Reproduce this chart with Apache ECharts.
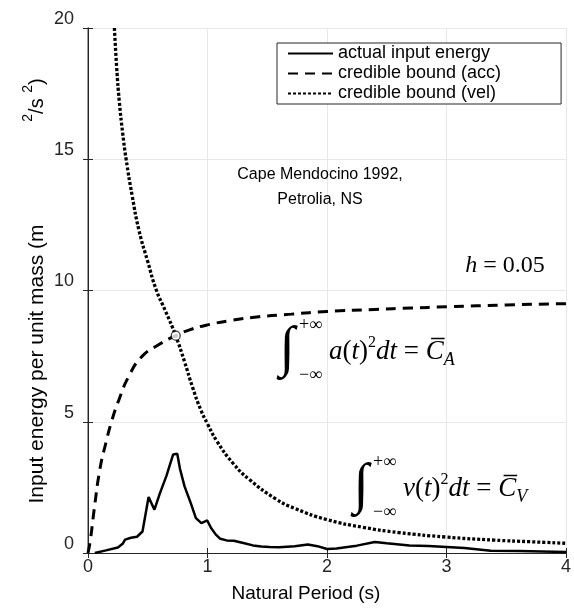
<!DOCTYPE html>
<html>
<head>
<meta charset="utf-8">
<script src="https://cdn.jsdelivr.net/npm/echarts@6/dist/echarts.min.js"></script>
<style>
  html, body { margin: 0; padding: 0; background: #fff; }
  #chart { width: 574px; height: 610px; }
</style>
</head>
<body>
<div id="chart"></div>
<script>
// Input energy spectrum, Cape Mendocino 1992 (Petrolia, NS), h = 0.05
const periodIn = [0.057, 0.15, 0.25, 0.29, 0.31, 0.36, 0.41, 0.456, 0.507, 0.556, 0.6, 0.657, 0.712, 0.747, 0.77, 0.808, 0.86, 0.903, 0.949, 0.998, 1.03, 1.07, 1.107, 1.16, 1.22, 1.3, 1.38, 1.45, 1.52, 1.6, 1.73, 1.84, 1.92, 2.0, 2.08, 2.14, 2.25, 2.4, 2.5, 2.69, 2.85, 3.0, 3.15, 3.37, 3.6, 3.8, 4.0];
const energyIn = [0, 0.1, 0.21, 0.35, 0.51, 0.58, 0.62, 0.82, 2.13, 1.65, 2.25, 2.95, 3.75, 3.78, 3.2, 2.54, 1.9, 1.33, 1.14, 1.24, 0.95, 0.7, 0.54, 0.48, 0.47, 0.38, 0.29, 0.25, 0.23, 0.22, 0.26, 0.32, 0.26, 0.15, 0.17, 0.21, 0.28, 0.42, 0.37, 0.29, 0.27, 0.23, 0.19, 0.09, 0.08, 0.06, 0.04];

const periodAcc = [0, 0.02, 0.05, 0.1, 0.15, 0.2, 0.26, 0.34, 0.45, 0.59, 0.734, 0.85, 1.0, 1.2, 1.43, 1.7, 2.0, 2.4, 2.7, 3.0, 3.5, 4.0];
const boundAcc = [0, 0.5, 1.6, 3.2, 4.2, 5.05, 5.85, 6.72, 7.48, 7.93, 8.28, 8.5, 8.69, 8.86, 9.0, 9.1, 9.2, 9.28, 9.33, 9.38, 9.45, 9.5];

const periodVel = [0.221, 0.24, 0.262, 0.29, 0.319, 0.37, 0.426, 0.5, 0.573, 0.65, 0.734, 0.807, 0.876, 0.944, 1.0, 1.08, 1.217, 1.353, 1.571, 1.73, 2.0, 2.3, 2.6, 2.99, 3.4, 3.7, 4.0];
const boundVel = [20, 18.5, 17.2, 16.0, 15.0, 13.6, 12.3, 11.1, 10.0, 9.2, 8.28, 7.3, 6.3, 5.45, 4.92, 4.25, 3.4, 2.79, 2.06, 1.7, 1.27, 0.98, 0.78, 0.61, 0.49, 0.43, 0.37];

// Period where the two credible bounds meet
const crossPeriod = [0.734];
const crossEnergy = [8.28];

const seriesNames = ['actual input energy', 'credible bound (acc)', 'credible bound (vel)'];
const xTickStep = 1, xMax = 4;
const yTickStep = 5, yMax = 20;

const pairs = (xs, ys) => xs.map((x, i) => [x, ys[i]]);

const FONT = '"Liberation Sans", Arial, Helvetica, sans-serif';
const SERIF = '"Liberation Serif", "Times New Roman", serif';
const AX = '#262626';
const GRID = '#e8e8e8';

const chart = echarts.init(document.getElementById('chart'), null, { renderer: 'canvas' });

const axisCommon = {
  min: 0,
  axisLine: { show: true, lineStyle: { color: AX, width: 1 } },
  axisTick: { show: true, inside: true, length: 5, lineStyle: { color: AX, width: 1 } },
  splitLine: { show: false },
  axisLabel: { show: false }
};

// integral annotation: big integral sign with limits, then the integrand
function integral(x0, y0, fn, sub) {
  return [
    { type: 'text', x: x0, y: y0, z: 10, style: { text: '\u222B', fill: '#000', font: 'italic 56px ' + SERIF, align: 'center', verticalAlign: 'middle' } },
    { type: 'text', x: x0 + 12, y: y0 - 25, z: 10, style: { text: '+\u221E', fill: '#000', font: '18px ' + SERIF, align: 'left', verticalAlign: 'middle' } },
    { type: 'text', x: x0 + 12, y: y0 + 25, z: 10, style: { text: '\u2212\u221E', fill: '#000', font: '18px ' + SERIF, align: 'left', verticalAlign: 'middle' } },
    {
      type: 'text', x: x0 + 42, y: y0 + 2, z: 10,
      style: {
        text: '{i|' + fn + '}{n|(}{i|t}{n|)}{s|2}{i|dt}{n| = }{i|C\u0305}{b|' + sub + '}',
        align: 'left', verticalAlign: 'middle', fill: '#000',
        rich: {
          i: { fontStyle: 'italic', fontSize: 27, fontFamily: SERIF, lineHeight: 34 },
          n: { fontSize: 27, fontFamily: SERIF, lineHeight: 34 },
          s: { fontSize: 16, fontFamily: SERIF, lineHeight: 16, verticalAlign: 'top' },
          b: { fontStyle: 'italic', fontSize: 18, fontFamily: SERIF, lineHeight: 16, verticalAlign: 'bottom' }
        }
      }
    }
  ];
}

const option = {
  animation: false,
  backgroundColor: '#fff',
  grid: { left: 88, right: -3, top: 28, bottom: 57, containLabel: false },
  xAxis: [
    Object.assign({}, axisCommon, {
      type: 'value', position: 'bottom', max: xMax, interval: xTickStep,
      splitLine: { show: true, lineStyle: { color: GRID, width: 1 } },
      axisLabel: { show: true, margin: 5, color: AX, fontSize: 18, fontFamily: FONT }
    }),
    Object.assign({}, axisCommon, {
      type: 'value', position: 'top', max: xMax, interval: xTickStep
    })
  ],
  yAxis: [
    Object.assign({}, axisCommon, {
      type: 'value', position: 'left', max: yMax, interval: yTickStep,
      axisLine: { show: true, lineStyle: { color: '#7a7a7a', width: 1.5 } },
      splitLine: { show: true, lineStyle: { color: GRID, width: 1 } },
      axisLabel: { show: true, margin: 14, color: AX, fontSize: 18, fontFamily: FONT, verticalAlign: 'bottom' }
    }),
    Object.assign({}, axisCommon, {
      type: 'value', position: 'right', max: yMax, interval: yTickStep
    })
  ],
  legend: {
    data: seriesNames,
    orient: 'vertical',
    left: 277, top: 43,
    padding: [1, 60, 1, 10],
    itemWidth: 45, itemHeight: 14, itemGap: 1,
    backgroundColor: '#fff',
    borderColor: AX, borderWidth: 1,
    itemStyle: { color: 'rgba(0,0,0,0)', borderWidth: 0, opacity: 0 },
    textStyle: { color: '#000', fontSize: 18, fontFamily: FONT, lineHeight: 19 }
  },
  series: [
    {
      name: seriesNames[0], type: 'line', data: pairs(periodIn, energyIn),
      symbol: 'none', smooth: false, z: 3, color: '#000',
      lineStyle: { color: '#000', width: 2.5, type: 'solid' }
    },
    {
      name: seriesNames[1], type: 'line', data: pairs(periodAcc, boundAcc),
      symbol: 'none', smooth: true, z: 4, color: '#000',
      lineStyle: { color: '#000', width: 3, type: [10, 7] }
    },
    {
      name: seriesNames[2], type: 'line', data: pairs(periodVel, boundVel),
      symbol: 'none', smooth: true, z: 4, color: '#000',
      lineStyle: { color: '#000', width: 3.3, type: [3, 2] }
    },
    {
      name: 'crossing', type: 'scatter', data: pairs(crossPeriod, crossEnergy),
      symbol: 'circle', symbolSize: 9, z: 6,
      itemStyle: { color: '#fff', borderColor: '#000', borderWidth: 1.2 }
    }
  ],
  graphic: [
    // y-axis title, set in two pieces
    {
      type: 'text', x: 37, y: 364, rotation: Math.PI / 2, z: 10,
      style: { text: 'Input energy per unit mass (m', fill: '#000', font: '21px ' + FONT, align: 'center', verticalAlign: 'middle' }
    },
    {
      type: 'text', x: 34, y: 100, rotation: Math.PI / 2, z: 10,
      style: {
        text: '{s|2}{n|/s }{s|2}{n|)}', align: 'center', verticalAlign: 'middle', fill: '#000',
        rich: {
          n: { fontSize: 20, fontFamily: FONT, lineHeight: 26, verticalAlign: 'bottom' },
          s: { fontSize: 14, fontFamily: FONT, lineHeight: 14, verticalAlign: 'top' }
        }
      }
    },
    // x-axis title
    {
      type: 'text', x: 306, y: 594, z: 10,
      style: { text: 'Natural Period (s)', fill: '#000', font: '19px ' + FONT, align: 'center', verticalAlign: 'middle' }
    },
    // record name
    {
      type: 'text', x: 320, y: 187, z: 10,
      style: { text: 'Cape Mendocino 1992,\nPetrolia, NS', fill: '#000', font: '16px ' + FONT, lineHeight: 25, align: 'center', verticalAlign: 'middle' }
    },
    // damping ratio
    {
      type: 'text', x: 505, y: 266, z: 10,
      style: {
        text: '{i|h} = 0.05', align: 'center', verticalAlign: 'middle', fill: '#000',
        font: '24px ' + SERIF,
        rich: { i: { fontStyle: 'italic', fontSize: 24, fontFamily: SERIF } }
      }
    }
  ]
    .concat(integral(287, 350, 'a', 'A'))
    .concat(integral(361, 487, 'v', 'V'))
};

chart.setOption(option);
</script>
</body>
</html>
